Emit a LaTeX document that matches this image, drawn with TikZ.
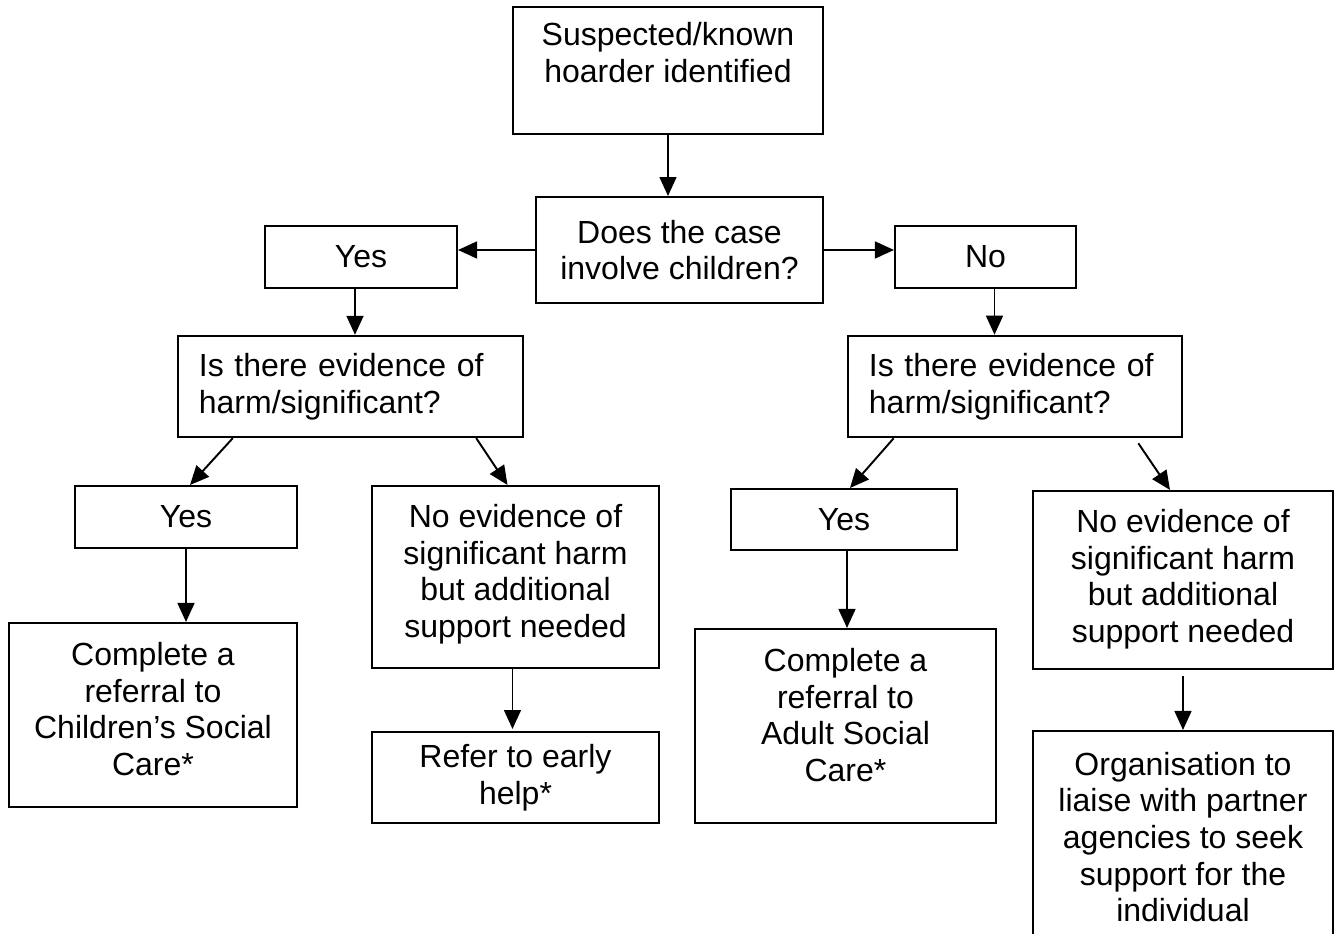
\documentclass[tikz,border=0pt]{standalone}
\usepackage{fontspec}
\setmainfont{Liberation Sans}
\usetikzlibrary{arrows.meta}
\tikzset{
  box/.style={draw,line width=0.55pt,align=center,inner sep=0pt,font=\fontsize{9.1}{10.4}\selectfont},
  query/.style={box,align=left,inner xsep=0.21cm,text width=#1},
  flow/.style={-{Triangle[length=5.4pt,width=4.8pt]},line width=0.55pt},
}
\begin{document}
\begin{tikzpicture}[x=0.01cm,y=-0.01cm,line join=miter]
\useasboundingbox (0,0) rectangle (1335,934);
\clip (0,0) rectangle (1335,934);

% top of the chart
\node[box,minimum width=3.10cm,minimum height=1.27cm] (start) at (668,70.5) {Suspected/known\\hoarder identified\\\mbox{}};
\node[box,minimum width=2.87cm,minimum height=1.06cm] (case) at (679.5,250) {Does the case\\involve children?};
\node[box,minimum width=1.92cm,minimum height=0.62cm] (yesC) at (361,257) {Yes};
\node[box,minimum width=1.81cm,minimum height=0.62cm] (noC) at (985.5,257) {No};

% the two questions
\node[query=3.03cm,line width=0.65pt,minimum height=1.01cm] (harmC) at (350.5,386.5) {Is there evidence of\\harm/significant?};
\node[query=2.92cm,line width=0.72pt,minimum height=1.01cm] (harmA) at (1015,386.5) {Is there evidence of\\harm/significant?};

% children side
\node[box,minimum width=2.22cm,minimum height=0.62cm] (yesCh) at (186,517) {Yes};
\node[box,minimum width=2.87cm,minimum height=1.82cm] (noevC) at (515.5,577) {No evidence of\\significant harm\\but additional\\support needed\\[-7pt]\mbox{}};
\node[box,minimum width=2.88cm,minimum height=1.84cm] (csc) at (153,715) {Complete a\\referral to\\Children’s Social\\Care*\\[-7pt]\mbox{}};
\node[box,minimum width=2.87cm,minimum height=0.91cm] (early) at (515.5,777.5) {Refer to early\\help*};

% adult side
\node[box,minimum width=2.26cm,minimum height=0.61cm] (yesA) at (844,519.5) {Yes};
\node[box,minimum width=3.01cm,minimum height=1.94cm] (asc) at (845.5,726) {Complete a\\referral to\\Adult Social\\Care*\\[-4pt]\mbox{}};
\node[box,minimum width=3.00cm,minimum height=1.78cm] (noevA) at (1183,580) {No evidence of\\significant harm\\but additional\\support needed\\[-8pt]\mbox{}};
\node[box,minimum width=3.00cm,minimum height=2.12cm] (org) at (1183,837) {Organisation to\\liaise with partner\\agencies to seek\\support for the\\individual};

% connectors
\draw[flow] (start.south) -- (start.south |- case.north);
\draw[flow] (case.west) -- (case.west -| yesC.east);
\draw[flow] (case.east) -- (case.east -| noC.west);
\draw[flow] ([xshift=-0.06cm]yesC.south) -- ([xshift=-0.06cm]yesC.south |- harmC.north);
\draw[flow] ([xshift=0.09cm]noC.south) -- ([xshift=0.09cm]noC.south |- harmA.north);
\draw[flow] ([xshift=0.56cm]harmC.south west) -- ([xshift=0.04cm]yesCh.north);
\draw[flow] ([xshift=-0.48cm]harmC.south east) -- ([xshift=-0.08cm]noevC.north);
\draw[flow] ([xshift=0.47cm]harmA.south west) -- ([xshift=0.06cm]yesA.north);
\draw[flow] ([xshift=-0.45cm,yshift=-0.05cm]harmA.south east) -- ([xshift=-0.13cm]noevA.north);
\draw[flow] (yesCh.south) -- (yesCh.south |- csc.north);
\draw[flow] ([xshift=-0.03cm]noevC.south) -- ([xshift=-0.03cm,yshift=0.02cm]noevC.south |- early.north);
\draw[flow] ([xshift=0.03cm]yesA.south) -- ([xshift=0.03cm]yesA.south |- asc.north);
\draw[flow] ([yshift=-0.06cm]noevA.south) -- (org.north);
\end{tikzpicture}
\end{document}
